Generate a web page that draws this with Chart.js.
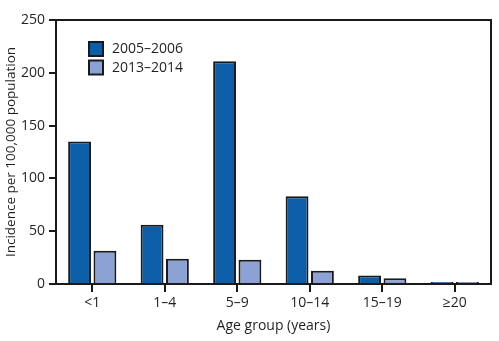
<!DOCTYPE html>
<html>
<head>
<meta charset="utf-8">
<script src="https://cdn.jsdelivr.net/npm/chart.js@4"></script>
<style>
html,body{margin:0;padding:0;background:#fff;}
#wrap{width:499px;height:341px;position:relative;}
</style>
</head>
<body>
<div id="wrap"><canvas id="c"></canvas></div>
<script>
const categories = ['<1', '1–4', '5–9', '10–14', '15–19', '≥20'];
const series2005 = [135, 56, 211, 83, 8, 1];
const series2013 = [31.5, 24, 23, 12.5, 5.5, 1];
const seriesLabels = ['2005–2006', '2013–2014'];
const yTicks = [0, 50, 100, 150, 200, 250];

const FONT = '"Open Sans", "Noto Sans", sans-serif';
const TEXT = '#231f20';
const LINE = '#1a1a1a';
const DARK = '#0b5ea8';
const LIGHT = '#8ca1d4';

const framePlugin = {
  id: 'frame',
  afterDraw(chart) {
    const {ctx, chartArea: a} = chart;
    ctx.save();
    ctx.strokeStyle = LINE;
    ctx.lineWidth = 2;
    ctx.beginPath();
    ctx.moveTo(a.left - 7, a.top);
    ctx.lineTo(a.right, a.top);
    ctx.lineTo(a.right, a.bottom);
    ctx.stroke();
    // legend
    const ds = chart.data.datasets;
    ctx.font = '14px ' + FONT;
    ctx.textBaseline = 'middle';
    ds.forEach((d, i) => {
      const x = 89, y = 42 + i * 18.5;
      ctx.fillStyle = d.backgroundColor;
      ctx.fillRect(x, y, 14, 14);
      ctx.lineWidth = 2;
      ctx.strokeStyle = LINE;
      ctx.strokeRect(x, y, 14, 14);
      ctx.fillStyle = TEXT;
      ctx.fillText(d.label, 112, y + 7.5);
    });
    ctx.restore();
  }
};

new Chart(document.getElementById('c'), {
  type: 'bar',
  data: {
    labels: categories,
    datasets: [
      {label: seriesLabels[0], data: series2005, backgroundColor: DARK, borderColor: LINE, borderWidth: 2, minBarLength: 2},
      {label: seriesLabels[1], data: series2013, backgroundColor: LIGHT, borderColor: LINE, borderWidth: 2, minBarLength: 2}
    ]
  },
  options: {
    responsive: true,
    maintainAspectRatio: false,
    animation: false,
    datasets: {bar: {categoryPercentage: 0.7, barPercentage: 0.9}},
    layout: {padding: {left: 0, right: 8, top: 20, bottom: 0}},
    plugins: {legend: {display: false}, tooltip: {enabled: false}},
    scales: {
      x: {
        offset: true,
        grid: {display: true, offset: false, drawOnChartArea: false, drawTicks: true, tickLength: 8, color: LINE, lineWidth: 2},
        border: {display: true, color: LINE, width: 2},
        ticks: {color: TEXT, font: {family: FONT, size: 14}, padding: 3, maxRotation: 0},
        title: {display: true, text: 'Age group (years)', color: TEXT, font: {family: FONT, size: 14}, padding: {top: 4, bottom: 7}},
        afterFit(s) { s.height = 57; }
      },
      y: {
        min: 0, max: 250,
        afterBuildTicks(s) { s.ticks = yTicks.map(v => ({value: v})); },
        grid: {display: true, drawOnChartArea: false, drawTicks: true, tickLength: 7, color: LINE, lineWidth: 2},
        border: {display: true, color: LINE, width: 2},
        ticks: {color: TEXT, font: {family: FONT, size: 14}, padding: 4},
        title: {display: true, text: 'Incidence per 100,000 population', color: TEXT, font: {family: FONT, size: 13.5}, padding: {top: 3, bottom: 4}},
        afterFit(s) { s.width = 56; }
      }
    }
  },
  plugins: [framePlugin]
});
</script>
</body>
</html>
